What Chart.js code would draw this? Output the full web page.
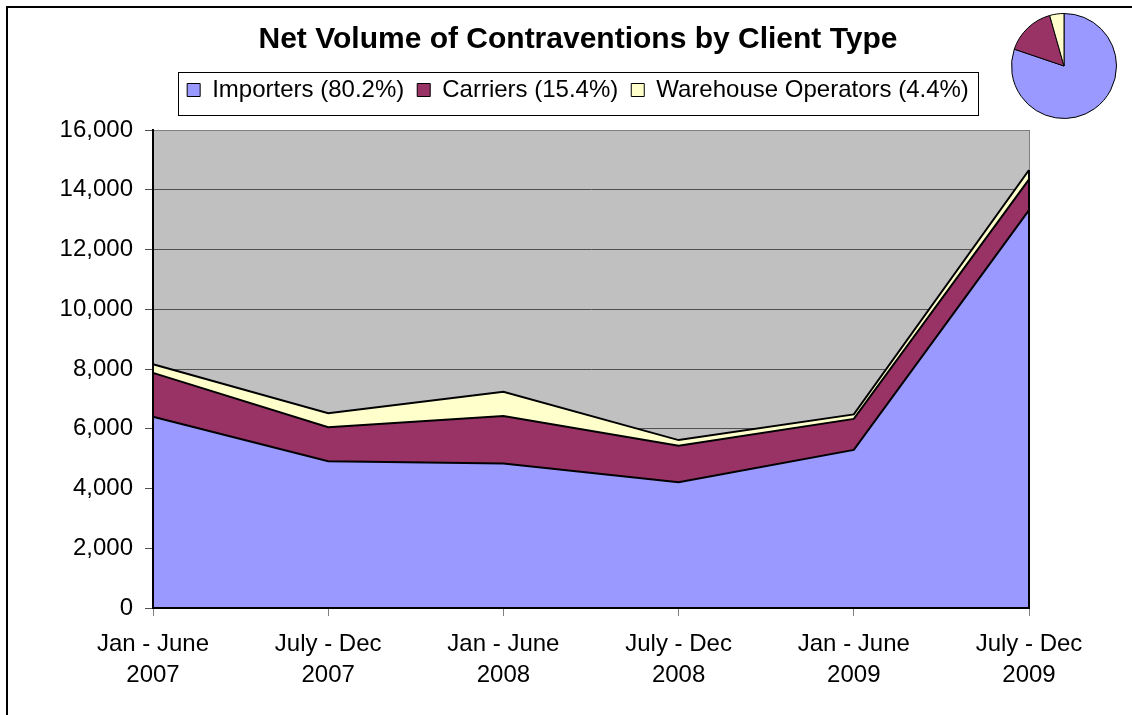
<!DOCTYPE html>
<html><head><meta charset="utf-8">
<script src="https://cdn.jsdelivr.net/npm/chart.js@4.4.1/dist/chart.umd.min.js"></script>
<style>
html,body{margin:0;padding:0;background:#fff;overflow:hidden;}
#wrap{position:relative;width:1132px;height:715px;overflow:hidden;}
#frame{position:absolute;left:6px;top:6px;width:1200px;height:800px;border:2px solid #000;box-sizing:border-box;pointer-events:none;}
#main{position:absolute;left:0;top:0;}
#pie{position:absolute;left:1011px;top:13px;}
</style></head><body>
<div id="wrap"><canvas id="main" width="1132" height="715"></canvas><canvas id="pie" width="106" height="106"></canvas><div id="frame"></div></div>
<script>
// ---- data ----
const periods = ['Jan - June','July - Dec','Jan - June','July - Dec','Jan - June','July - Dec'];
const years = ['2007','2007','2008','2008','2009','2009'];
const importers = [6400, 4910, 4840, 4210, 5290, 13320];
const carriers = [1470, 1140, 1590, 1220, 1040, 1030];
const warehouse = [290, 470, 810, 190, 150, 310];
const seriesNames = ['Importers (80.2%)', 'Carriers (15.4%)', 'Warehouse Operators (4.4%)'];
const sharePct = [80.2, 15.4, 4.4];
const yMin = 0, yMax = 16000, yStep = 2000;
const chartTitle = 'Net Volume of Contraventions by Client Type';

const colors = ['#9999FF', '#993366', '#FFFFCC'];
const FONT = "'Liberation Sans', Arial, sans-serif";
Chart.defaults.font.family = FONT;
Chart.defaults.color = '#000';
Chart.defaults.devicePixelRatio = 1;

const categories = periods.map((p, i) => [p, years[i]]);

const plotBg = {
  id: 'plotBg',
  beforeDraw(chart) {
    const {ctx, chartArea: a} = chart;
    ctx.save();
    ctx.fillStyle = '#C0C0C0';
    ctx.fillRect(a.left, a.top, a.right - a.left, a.bottom - a.top);
    ctx.restore();
  }
};
const legendFrame = {
  id: 'legendFrame',
  afterDraw(chart) {
    const lg = chart.legend;
    if (!lg || !lg.legendHitBoxes.length) return;
    const hb = lg.legendHitBoxes;
    const left = Math.min(...hb.map(h => h.left)) - 9;
    const right = Math.max(...hb.map(h => h.left + h.width)) + 9;
    const mid = lg.top + lg.options.labels.padding + 12;
    const ctx = chart.ctx;
    ctx.save();
    ctx.strokeStyle = '#000';
    ctx.lineWidth = 1;
    ctx.strokeRect(Math.round(left) + 0.5, Math.round(mid - 18) + 0.5, Math.round(right - left), 43);
    ctx.restore();
  }
};
const areaEdge = {
  id: 'areaEdge',
  afterDatasetsDraw(chart) {
    const xs = chart.scales.x, ys = chart.scales.y;
    const last = importers.length - 1;
    const x = xs.getPixelForValue(last);
    const top = ys.getPixelForValue(importers[last] + carriers[last] + warehouse[last]);
    const bottom = ys.getPixelForValue(0);
    const ctx = chart.ctx;
    ctx.save();
    ctx.strokeStyle = '#000';
    ctx.lineWidth = 2;
    ctx.beginPath();
    ctx.moveTo(x, top);
    ctx.lineTo(x, bottom);
    ctx.stroke();
    ctx.restore();
  }
};

const mk = (label, data, color, fill) => ({
  label, data, backgroundColor: color, borderColor: '#000', borderWidth: 2,
  pointRadius: 0, pointHoverRadius: 0, tension: 0, fill
});

new Chart(document.getElementById('main'), {
  type: 'line',
  data: {
    labels: categories,
    datasets: [
      mk(seriesNames[0], importers, colors[0], 'origin'),
      mk(seriesNames[1], carriers, colors[1], '-1'),
      mk(seriesNames[2], warehouse, colors[2], '-1')
    ]
  },
  options: {
    responsive: false,
    animation: false,
    events: [],
    layout: { padding: { left: 24, right: 0, top: 8, bottom: 0 } },
    plugins: {
      title: {
        display: true, text: chartTitle,
        font: { size: 30, weight: 'bold', lineHeight: 1.2 },
        padding: { top: 13.7, bottom: 7.3 }, color: '#000'
      },
      legend: {
        display: true, position: 'top',
        labels: {
          font: { size: 24 }, boxWidth: 13, boxHeight: 13, padding: 13, color: '#000',
          generateLabels(chart) {
            return Chart.defaults.plugins.legend.labels.generateLabels(chart).map(l => ({...l, lineWidth: 1, strokeStyle: '#000'}));
          }
        }
      },
      tooltip: { enabled: false }
    },
    scales: {
      x: {
        type: 'category', offset: false,
        grid: { display: true, drawOnChartArea: false, drawTicks: true, tickLength: 8, tickColor: '#808080', tickWidth: 1 },
        border: { display: true, color: '#000', width: 2, z: 1 },
        ticks: { font: { size: 24, lineHeight: 1.3 }, padding: 13, maxRotation: 0, autoSkip: false, color: '#000' },
        afterFit(s) { s.height = 107; }
      },
      xTop: {
        axis: 'x', type: 'linear', position: 'top', display: true,
        grid: { display: false }, ticks: { display: false },
        border: { display: true, color: '#808080', width: 1 },
        afterFit(s) { s.height = 18; }
      },
      y: {
        stacked: true, min: yMin, max: yMax,
        grid: {
          color: (c) => (c.tick && c.tick.value === yMax) ? '#808080' : '#505050',
          lineWidth: 1, tickLength: 8, tickColor: '#505050'
        },
        border: { display: true, color: '#000', width: 2, z: 1 },
        ticks: {
          stepSize: yStep, padding: 12, font: { size: 24 }, color: '#000',
          callback: (v) => Number(v).toLocaleString('en-US')
        },
        afterFit(s) { s.width = 129; }
      },
      yRight: {
        axis: 'y', type: 'linear', position: 'right', display: true,
        grid: { display: false }, ticks: { display: false },
        border: { display: true, color: '#808080', width: 1 },
        afterFit(s) { s.width = 103; }
      }
    }
  },
  plugins: [plotBg, legendFrame, areaEdge]
});

new Chart(document.getElementById('pie'), {
  type: 'pie',
  data: {
    labels: seriesNames,
    datasets: [{ data: sharePct, backgroundColor: colors, borderColor: '#000', borderWidth: 1 }]
  },
  options: {
    responsive: false, animation: false, events: [],
    layout: { padding: 0 },
    plugins: { legend: { display: false }, tooltip: { enabled: false }, title: { display: false } }
  }
});
</script>
</body></html>
